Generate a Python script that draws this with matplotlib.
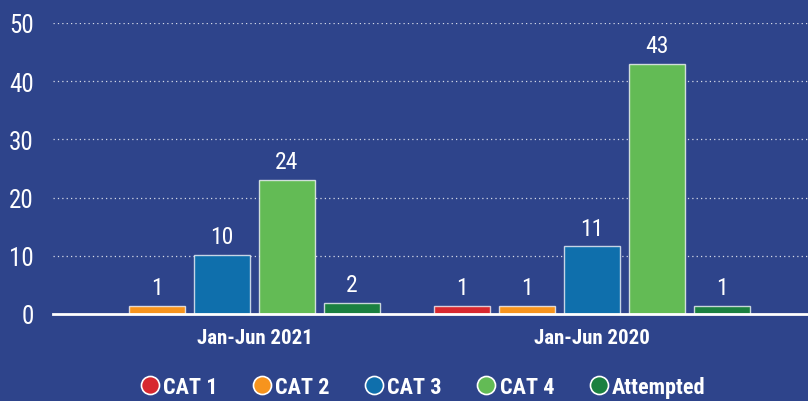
import matplotlib
matplotlib.use("Agg")
import matplotlib.pyplot as plt
from matplotlib.lines import Line2D
from matplotlib import font_manager

names = {f.name for f in font_manager.fontManager.ttflist}
fam = [n for n in ["Liberation Sans Narrow", "Roboto Condensed", "Open Sans Condensed", "Roboto"] if n in names] + ["DejaVu Sans"]
plt.rcParams['font.family'] = fam

periods = ["Jan-Jun 2021", "Jan-Jun 2020"]
series = ["CAT 1", "CAT 2", "CAT 3", "CAT 4", "Attempted"]
colors = ["#D7282F", "#F7941D", "#0F6FAC", "#63BB55", "#1B8040"]
# bar heights as drawn (None = no bar)
heights_2021 = [None, 1.4, 10.1, 23.1, 1.9]
heights_2020 = [1.4, 1.4, 11.6, 43.0, 1.4]
labels_2021 = [None, "1", "10", "24", "2"]
labels_2020 = ["1", "1", "11", "43", "1"]
yticks = [0, 10, 20, 30, 40, 50]

bg = "#2E448B"
fig = plt.figure(figsize=(8.08, 4.02), dpi=100, facecolor=bg)
ax = fig.add_axes([53/808, 1-315/402, 1-53/808, (315-24)/402])
ax.set_facecolor(bg)

spacing = 0.1926
width = 0.163
for gi, (hs, ls) in enumerate([(heights_2021, labels_2021), (heights_2020, labels_2020)]):
    idx = [i for i, h in enumerate(hs) if h is not None]
    n = len(idx)
    for k, i in enumerate(idx):
        x = gi + (k - (n - 1) / 2) * spacing
        ax.bar(x, hs[i], width=width, color=colors[i], edgecolor=(1, 1, 1, 0.75), linewidth=1, zorder=3)
        ax.text(x, hs[i] + 1.2, ls[i], ha="center", va="bottom", color="white", fontsize=17, zorder=4)

ax.set_xlim((53-254.5)/337.5, (808-254.5)/337.5)
ax.set_ylim(0, 50)
ax.set_yticks(yticks)
ax.set_yticklabels([str(v) for v in yticks], fontsize=18, color="white")
ax.set_xticks([0, 1])
ax.set_xticklabels(periods, fontsize=15, color="white", fontweight="bold")
ax.tick_params(axis="y", length=0, pad=14)
ax.tick_params(axis="x", length=0, pad=10)
for s in ax.spines.values():
    s.set_visible(False)
for v in yticks[1:]:
    ax.axhline(v, color="white", alpha=0.8, linestyle=(0, (1, 2.5)), linewidth=0.9, zorder=1)
ax.axhline(0, color="white", linewidth=2, zorder=5, clip_on=False)

handles = [Line2D([], [], marker="o", linestyle="none", markersize=13, markerfacecolor=c,
                  markeredgecolor="white", markeredgewidth=1.2) for c in colors]
leg = fig.legend(handles, series, loc="center", bbox_to_anchor=(422/808, 1-388/402), ncol=5,
                 frameon=False, fontsize=16, handletextpad=0.1, columnspacing=1.5, handlelength=1.0)
for t in leg.get_texts():
    t.set_color("white")
    t.set_fontweight("bold")

fig.savefig("out.png", dpi=100, facecolor=bg)
